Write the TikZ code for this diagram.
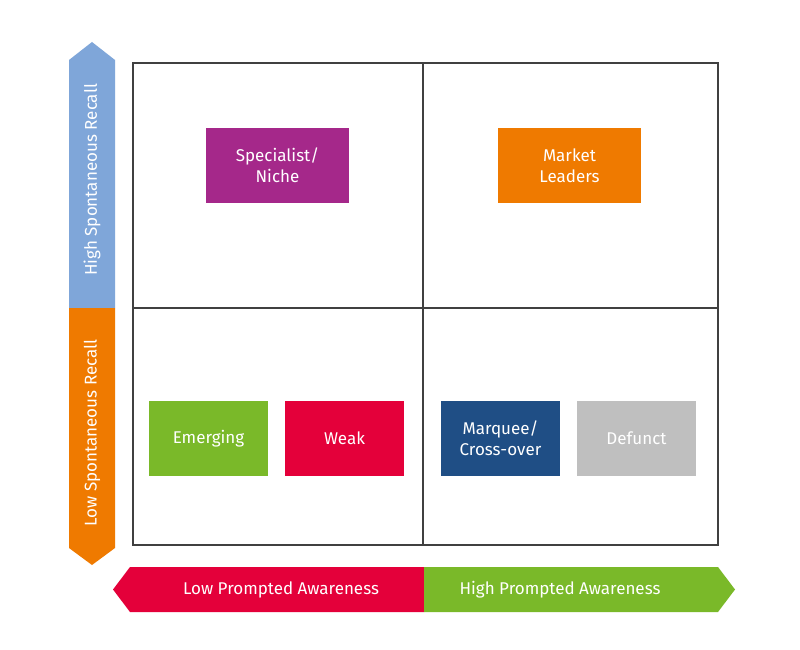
\documentclass[tikz,border=0pt]{standalone}
\usepackage{fontspec}
\setmainfont{Fira Sans}
\begin{document}
\begin{tikzpicture}[x=1pt,y=-1pt,
  box/.style={minimum width=119pt,minimum height=75pt,text=white,align=center,inner sep=0pt,font=\fontsize{17}{21}\selectfont},
  lab/.style={text=white,font=\fontsize{17}{20}\selectfont}]
\definecolor{cblue}{HTML}{7FA6D9}
\definecolor{corange}{HTML}{EF7A00}
\definecolor{cred}{HTML}{E4003A}
\definecolor{cgreen}{HTML}{7AB929}
\definecolor{cpurple}{HTML}{A5288A}
\definecolor{cnavy}{HTML}{1F4E85}
\definecolor{cgray}{HTML}{BFBFBF}
\useasboundingbox (0,0) rectangle (800,650);
\fill[white] (0,0) rectangle (800,650);
% axes arrows
\fill[cblue] (69,60) -- (92,42) -- (115,60) -- (115,308) -- (69,308) -- cycle;
\fill[corange] (69,308) -- (115,308) -- (115,548) -- (92,565) -- (69,548) -- cycle;
\fill[cred] (130,567) -- (424,567) -- (424,612) -- (130,612) -- (113,589.5) -- cycle;
\fill[cgreen] (424,567) -- (718,567) -- (735,589.5) -- (718,612) -- (424,612) -- cycle;
\node[lab,rotate=90] (hs) at (92,180) {High Spontaneous Recall};
\node[lab,rotate=90] (ls) at (92,433) {Low Spontaneous Recall};
\node[lab] (lp) at (281,590) {Low Prompted Awareness};
\node[lab] (hp) at (560,590) {High Prompted Awareness};
% grid
\draw[line width=1.5pt,draw=black!75] (133,63) rectangle (718,545);
\draw[line width=1.5pt,draw=black!75] (423,63) -- (423,545);
\draw[line width=1.5pt,draw=black!75] (133,308) -- (718,308);
% boxes
\node[box,fill=cpurple,minimum width=143pt] (sn) at (277.5,165.5) {Specialist/\\Niche};
\node[box,fill=corange,minimum width=143pt] (ml) at (569.5,165.5) {Market\\Leaders};
\node[box,fill=cgreen] (em) at (208.5,438.5) {Emerging};
\node[box,fill=cred] (wk) at (344.5,438.5) {Weak};
\node[box,fill=cnavy] (mq) at (500.5,438.5) {Marquee/\\Cross-over};
\node[box,fill=cgray] (df) at (636.5,438.5) {Defunct};
\end{tikzpicture}
\end{document}
